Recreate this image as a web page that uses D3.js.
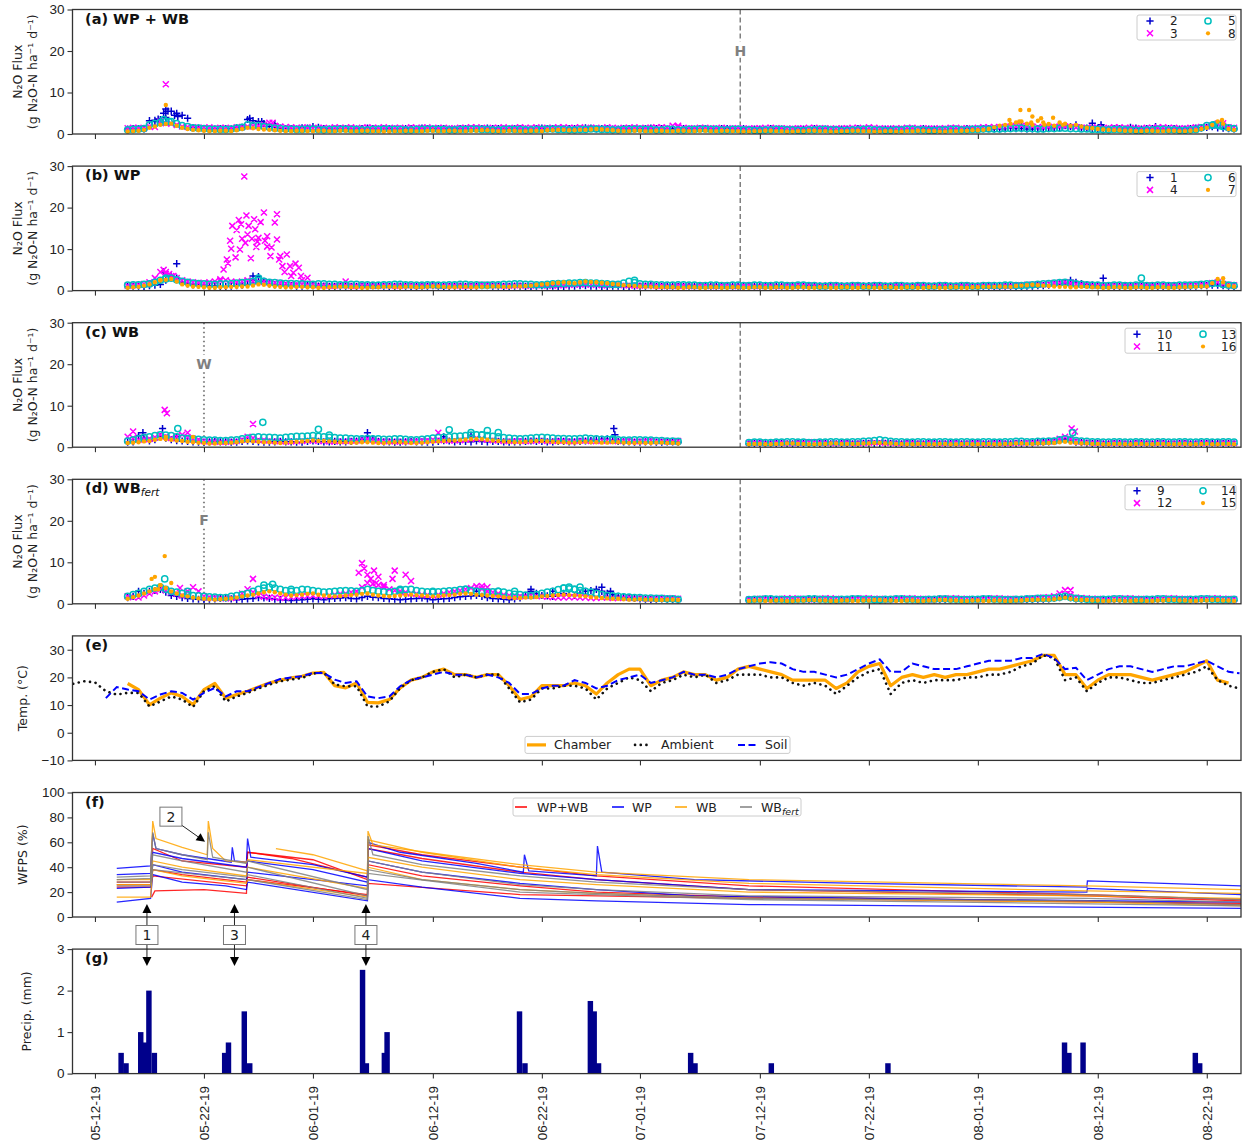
<!DOCTYPE html>
<html><head><meta charset="utf-8">
<script src="https://cdn.jsdelivr.net/npm/d3@7"></script>
<style>
body{margin:0;background:#fff}
svg{font-family:"DejaVu Sans",sans-serif}
.axis text{font-size:13.5px;fill:#222}
.axis line{stroke:#333;stroke-width:1.1}
</style></head>
<body><svg id="chart" width="1244" height="1146"></svg>
<script>
// ---------- time axis (days after 12 May 2019) ----------
const xDomain = [-2.06, 105.14];
const tickDays = [0, 10, 20, 31, 41, 50, 61, 71, 81, 92, 102];
const tickLabels = ["05-12-19","05-22-19","06-01-19","06-12-19","06-22-19","07-01-19","07-12-19","07-22-19","08-01-19","08-12-19","08-22-19"];
const harvestDay = 59.2, waterDay = 10.0;

// ---------- N2O flux: morning readings from 15 May (day 3), afternoon readings half a day later ----------
const FLUX_START = 3;
// (a) WP + WB
const flux2 = [1.2,1.3,3.2,3.5,5.5,4.5,1.5,1.3,1.2,1.3, 1.5,3.5,3.0,1.8,1.4,1.3,1.5,1.8,1.3,1.2, 1.3,1.2,1.4,1.2,1.3,1.2,1.3,1.4,1.2,1.3, 1.2,1.3,1.2,1.4,1.3,1.2,1.3,1.2,1.4,1.3, 1.2,1.3,1.5,1.2,1.3,1.2,1.3,1.2,1.4,1.3, 1.2,1.3,1.2,1.3,1.2,1.3,1.2,1.1,1.2,1.3, 1.2,1.1,1.2,1.3,1.2,1.1,1.2,1.3,1.2,1.1, 1.2,1.1,1.2,1.3,1.2,1.1,1.2,1.3,1.2,1.3, 1.2,1.4,1.3,1.2,1.3,1.5,2.0,2.2,1.4,1.3, 1.2,1.3,1.6,1.2,1.3,1.2,1.3,1.2,1.4,1.6, 1.5,1.3];
const flux2pm = [1.3,1.2,3.0,4.0,5.0,3.8,1.4,1.2,1.3,1.2, 1.6,3.2,2.5,1.6,1.3,1.2,1.4,1.6,1.2,1.3, 1.2,1.3,1.3,1.3,1.2,1.3,1.2,1.3,1.3,1.2, 1.3,1.2,1.3,1.3,1.2,1.3,1.2,1.3,1.3,1.2, 1.3,1.2,1.4,1.3,1.2,1.3,1.2,1.3,1.3,1.2, 1.3,1.2,1.3,1.2,1.3,1.2,1.3,1.2,1.1,1.2, 1.1,1.2,1.1,1.2,1.1,1.2,1.1,1.2,1.1,1.2, 1.1,1.2,1.1,1.2,1.1,1.2,1.1,1.2,1.3,1.2, 1.3,1.3,1.2,1.3,1.4,1.6,1.8,1.5,1.3,1.2, 1.3,1.2,1.4,1.3,1.2,1.3,1.2,1.3,1.5,1.8, 1.4,1.2];
const flux3 = [1.4,1.5,1.8,3.0,2.5,1.8,1.6,1.5,1.4,1.5, 1.6,1.8,2.0,2.7,1.8,1.6,1.5,1.4,1.5,1.6, 1.5,1.4,1.6,1.5,1.4,1.5,1.6,1.5,1.4,1.5, 1.4,1.5,1.6,1.4,1.5,1.4,1.6,1.5,1.4,1.5, 1.6,1.5,1.4,1.5,1.6,1.4,1.5,1.4,1.5,1.6, 2.0,1.5,1.4,1.5,1.4,1.3,1.4,1.3,1.4,1.5, 1.4,1.3,1.4,1.5,1.4,1.3,1.4,1.5,1.6,1.4, 1.3,1.4,1.5,1.4,1.3,1.4,1.5,1.4,1.5,1.6, 1.6,1.8,2.0,1.8,1.6,1.7,1.8,1.6,1.5,1.5, 1.5,1.6,1.5,1.4,1.5,1.6,1.5,1.4,1.6,1.8, 2.5,1.6];
const flux3pm = [1.5,1.4,1.7,2.6,2.2,1.7,1.5,1.6,1.5,1.4, 1.7,1.9,2.2,2.0,1.7,1.5,1.6,1.5,1.4,1.5, 1.6,1.5,1.5,1.6,1.5,1.4,1.5,1.6,1.5,1.4, 1.5,1.6,1.5,1.5,1.6,1.5,1.5,1.6,1.5,1.6, 1.5,1.6,1.5,1.4,1.5,1.5,1.6,1.5,1.6,1.5, 1.6,1.4,1.5,1.4,1.5,1.4,1.3,1.4,1.5,1.4, 1.3,1.4,1.5,1.4,1.3,1.4,1.5,1.4,1.5,1.3, 1.4,1.5,1.4,1.3,1.4,1.5,1.4,1.3,1.6,1.7, 1.7,1.9,1.9,1.7,1.7,1.8,1.7,1.5,1.6,1.4, 1.6,1.5,1.4,1.5,1.6,1.5,1.4,1.5,1.7,2.0, 2.0,1.5];
const flux5 = [1.0,1.2,2.2,2.8,3.0,2.0,1.5,1.3,1.2,1.1, 1.4,2.2,2.0,1.6,1.3,1.2,1.1,1.2,1.0,1.1, 1.2,1.1,1.0,1.1,1.2,1.1,1.0,1.1,1.2,1.1, 1.0,1.1,1.2,1.1,1.0,1.2,1.1,1.0,1.1,1.2, 1.1,1.0,1.1,1.2,1.1,1.0,1.1,1.2,1.1,1.0, 1.1,1.0,1.1,1.2,1.1,1.0,1.1,1.0,0.9,1.0, 1.1,1.0,0.9,1.0,1.1,1.0,0.9,1.0,1.1,1.0, 0.9,1.0,1.1,1.0,0.9,1.0,1.1,1.0,1.1,1.2, 1.2,1.3,1.4,1.3,1.2,1.3,1.4,1.3,1.2,1.1, 1.0,1.1,1.0,0.9,1.0,1.1,1.0,0.9,1.1,2.0, 2.2,1.5];
const flux5pm = [1.1,1.3,2.5,3.0,2.5,1.8,1.4,1.2,1.1,1.2, 1.6,2.0,1.8,1.4,1.2,1.1,1.2,1.1,1.1,1.2, 1.1,1.0,1.1,1.2,1.1,1.0,1.1,1.2,1.1,1.0, 1.1,1.2,1.1,1.0,1.1,1.1,1.0,1.1,1.2,1.1, 1.0,1.1,1.2,1.1,1.0,1.1,1.2,1.1,1.0,1.1, 1.0,1.1,1.2,1.1,1.0,1.1,1.0,0.9,1.0,1.1, 1.0,0.9,1.0,1.1,1.0,0.9,1.0,1.1,1.0,0.9, 1.0,1.1,1.0,0.9,1.0,1.1,1.0,1.1,1.2,1.2, 1.3,1.4,1.3,1.2,1.3,1.4,1.3,1.2,1.1,1.0, 1.1,1.0,0.9,1.0,1.1,1.0,0.9,1.0,1.5,2.1, 1.8,1.3];
const flux8 = [0.6,0.8,1.5,2.2,2.5,1.5,1.0,0.8,0.7,0.8, 0.9,1.5,1.2,1.0,0.8,0.7,0.8,0.7,0.8,0.7, 0.8,0.7,0.8,0.7,0.6,0.7,0.8,0.7,0.8,0.7, 0.8,0.7,0.8,0.9,0.7,0.8,0.7,0.8,0.7,0.9, 1.0,0.9,1.0,1.2,1.0,0.8,0.7,0.8,0.7,0.8, 0.7,0.8,0.7,0.8,0.7,0.8,0.7,0.6,0.7,0.8, 0.7,0.6,0.7,0.8,0.7,0.6,0.7,0.8,0.7,0.6, 0.7,0.6,0.7,0.8,0.7,0.6,0.7,0.8,0.9,1.2, 2.0,2.5,3.0,2.2,2.8,2.0,2.5,2.2,1.5,1.2, 1.0,0.9,0.8,0.7,0.8,0.7,0.8,0.7,0.9,1.5, 3.0,1.2];
const flux8pm = [0.7,1.0,1.8,2.4,2.0,1.2,0.9,0.7,0.8,0.7, 1.2,1.4,1.1,0.9,0.7,0.8,0.7,0.8,0.7,0.8, 0.7,0.8,0.7,0.6,0.7,0.8,0.7,0.8,0.7,0.8, 0.7,0.8,0.9,0.8,0.7,0.8,0.7,0.8,0.9,1.0, 0.9,1.0,1.1,1.1,0.9,0.7,0.8,0.7,0.8,0.7, 0.8,0.7,0.8,0.7,0.8,0.7,0.6,0.7,0.8,0.7, 0.6,0.7,0.8,0.7,0.6,0.7,0.8,0.7,0.6,0.7, 0.6,0.7,0.8,0.7,0.6,0.7,0.8,0.9,1.0,1.6, 2.2,2.8,2.5,3.2,2.4,2.8,2.0,1.8,1.4,1.1, 0.9,0.8,0.7,0.8,0.7,0.8,0.7,0.8,1.2,2.2, 2.5,1.0];
const burst2 = [[5.5,3.3],[5.8,3.6],[6.3,5.0],[6.5,6.0],[6.7,5.5],[7.3,4.5],[7.6,4.2],[14.2,3.8],[15.3,3.0],[16.5,2.5],[85,2.0],[91.5,2.6],[92.3,2.2],[97.3,1.8]];
const burst3 = [[6.5,12.0],[16.3,2.7],[53.5,2.0],[103.5,2.6]];
const burst5 = [[6.3,3.5],[6.8,3.0],[102.6,2.2],[103.2,2.0]];
const burst8 = [[6.5,7.0],[83.9,3.4],[84.8,3.0],[84.9,5.8],[85.7,5.8],[85.9,2.8],[86.0,4.2],[86.8,3.8],[87.1,2.2],[87.9,3.9],[88.8,2.2],[103.4,3.4]];
// (b) WP
const flux1 = [1.0,1.1,1.2,1.5,3.5,2.0,1.4,1.2,1.1,1.0, 1.2,1.5,3.4,1.6,1.3,1.2,1.1,1.2,1.1,1.0, 1.1,1.0,1.1,1.2,1.0,1.1,1.0,1.1,1.2,1.0, 1.1,1.0,1.1,1.2,1.1,1.0,1.1,1.0,1.2,1.1, 1.0,1.1,1.2,1.1,1.0,1.1,1.0,1.1,1.2,1.0, 1.1,1.0,1.1,1.0,1.1,1.0,1.1,1.0,1.1,1.0, 1.1,1.0,1.1,1.2,1.1,1.0,1.1,1.0,1.2,1.1, 1.0,1.1,1.0,1.1,1.0,1.1,1.0,1.1,1.0,1.1, 1.0,1.1,1.0,1.1,1.2,1.5,1.8,2.0,1.4,1.2, 1.1,1.0,1.1,1.0,1.1,1.0,1.1,1.0,1.1,1.2, 1.3,1.1];
const flux1pm = [1.1,1.0,1.3,2.5,3.0,1.6,1.3,1.1,1.0,1.1, 1.3,2.5,2.2,1.4,1.2,1.1,1.2,1.1,1.0,1.1, 1.0,1.1,1.2,1.1,1.0,1.1,1.0,1.1,1.1,1.0, 1.1,1.0,1.2,1.1,1.0,1.1,1.0,1.1,1.1,1.0, 1.1,1.2,1.1,1.0,1.1,1.0,1.1,1.1,1.0,1.1, 1.0,1.1,1.0,1.1,1.0,1.1,1.0,1.1,1.0,1.1, 1.0,1.1,1.2,1.1,1.0,1.1,1.0,1.1,1.1,1.0, 1.1,1.0,1.1,1.0,1.1,1.0,1.1,1.0,1.1,1.0, 1.1,1.0,1.1,1.2,1.3,1.6,1.9,1.7,1.3,1.1, 1.0,1.1,1.0,1.1,1.0,1.1,1.0,1.1,1.2,1.3, 1.2,1.0];
const flux4 = [1.2,1.4,2.0,4.5,3.5,2.5,2.0,1.8,2.2,2.5, 2.0,2.5,2.2,2.0,1.8,1.6,1.5,1.4,1.3,1.2, 1.3,1.2,1.3,1.2,1.3,1.2,1.3,1.2,1.3,1.2, 1.3,1.2,1.3,1.4,1.3,1.2,1.3,1.2,1.3,1.2, 1.3,1.4,1.5,1.4,1.3,1.4,1.3,1.2,1.3,1.2, 1.1,1.2,1.1,1.2,1.1,1.2,1.1,1.2,1.1,1.2, 1.1,1.2,1.3,1.2,1.1,1.2,1.1,1.2,1.1,1.2, 1.1,1.2,1.1,1.2,1.1,1.2,1.1,1.2,1.1,1.2, 1.1,1.2,1.3,1.4,1.5,1.8,2.0,1.6,1.4,1.3, 1.2,1.3,1.2,1.3,1.2,1.3,1.2,1.3,1.4,1.5, 2.0,1.4];
const flux4pm = [1.3,1.6,3.0,4.0,3.0,2.2,1.9,2.0,2.4,2.2, 2.2,2.3,2.1,1.9,1.7,1.5,1.4,1.3,1.2,1.3, 1.2,1.3,1.2,1.3,1.2,1.3,1.2,1.3,1.2,1.3, 1.2,1.3,1.4,1.3,1.2,1.3,1.2,1.3,1.2,1.3, 1.4,1.5,1.4,1.3,1.4,1.3,1.2,1.3,1.2,1.1, 1.2,1.1,1.2,1.1,1.2,1.1,1.2,1.1,1.2,1.1, 1.2,1.3,1.2,1.1,1.2,1.1,1.2,1.1,1.2,1.1, 1.2,1.1,1.2,1.1,1.2,1.1,1.2,1.1,1.2,1.1, 1.2,1.3,1.4,1.5,1.7,1.9,1.8,1.5,1.3,1.2, 1.3,1.2,1.3,1.2,1.3,1.2,1.3,1.4,1.5,1.8, 1.6,1.3];
const flux6 = [1.3,1.4,1.6,2.5,3.0,2.2,1.8,1.6,1.5,1.6, 1.8,2.0,2.5,2.0,1.8,1.7,1.6,1.5,1.6,1.5, 1.4,1.5,1.4,1.3,1.4,1.5,1.4,1.3,1.4,1.3, 1.4,1.5,1.4,1.3,1.4,1.5,1.6,1.5,1.4,1.6, 1.7,1.8,1.9,1.8,1.6,1.5,2.2,1.6,1.5,1.4, 1.3,1.4,1.3,1.2,1.3,1.2,1.3,1.2,1.3,1.2, 1.3,1.2,1.3,1.2,1.1,1.2,1.1,1.2,1.1,1.2, 1.1,1.2,1.1,1.2,1.1,1.2,1.1,1.2,1.1,1.2, 1.2,1.3,1.2,1.4,1.6,1.8,2.0,1.6,1.4,1.3, 1.2,1.3,1.2,1.3,1.2,1.3,1.2,1.3,1.4,1.6, 1.8,1.3];
const flux6pm = [1.4,1.5,2.0,2.8,2.6,2.0,1.7,1.5,1.6,1.7, 1.9,2.2,2.2,1.9,1.7,1.6,1.5,1.6,1.5,1.4, 1.5,1.4,1.3,1.4,1.5,1.4,1.3,1.4,1.3,1.4, 1.5,1.4,1.3,1.4,1.5,1.6,1.5,1.4,1.5,1.7, 1.8,1.9,1.8,1.7,1.5,1.8,1.9,1.5,1.4,1.3, 1.4,1.3,1.2,1.3,1.2,1.3,1.2,1.3,1.2,1.3, 1.2,1.3,1.2,1.1,1.2,1.1,1.2,1.1,1.2,1.1, 1.2,1.1,1.2,1.1,1.2,1.1,1.2,1.1,1.2,1.2, 1.3,1.2,1.3,1.5,1.7,1.9,1.8,1.5,1.3,1.2, 1.3,1.2,1.3,1.2,1.3,1.2,1.3,1.3,1.5,1.7, 1.5,1.2];
const flux7 = [0.7,0.9,1.5,2.5,2.8,1.5,1.0,0.8,0.7,0.8, 0.9,1.0,1.5,1.2,0.9,0.8,0.9,0.8,0.7,0.8, 0.9,0.8,0.7,0.8,0.9,0.8,0.9,0.8,1.0,0.9, 0.8,0.9,0.8,0.9,1.0,0.9,1.0,1.2,1.5,1.8, 2.0,1.8,2.2,2.0,1.8,1.5,1.2,1.0,0.9,0.8, 0.8,0.7,0.8,0.7,0.8,0.7,0.8,0.7,0.8,0.7, 0.8,0.7,0.8,0.7,0.8,0.7,0.8,0.7,0.8,0.7, 0.8,0.7,0.8,0.7,0.8,0.7,0.8,0.7,0.8,0.9, 1.0,0.9,1.2,1.4,1.2,1.0,0.9,0.8,0.9,0.8, 0.7,0.8,0.7,0.8,0.7,0.8,0.7,0.8,0.9,1.0, 2.8,1.2];
const flux7pm = [0.8,1.2,2.0,2.6,2.2,1.2,0.9,0.7,0.8,0.9, 1.0,1.2,1.4,1.0,0.8,0.9,0.8,0.7,0.8,0.9, 0.8,0.7,0.8,0.9,0.8,0.9,0.8,0.9,1.0,0.8, 0.9,0.8,0.9,1.0,0.9,1.0,1.1,1.4,1.6,1.9, 1.9,2.0,2.1,1.9,1.6,1.3,1.1,0.9,0.8,0.8, 0.7,0.8,0.7,0.8,0.7,0.8,0.7,0.8,0.7,0.8, 0.7,0.8,0.7,0.8,0.7,0.8,0.7,0.8,0.7,0.8, 0.7,0.8,0.7,0.8,0.7,0.8,0.7,0.8,0.9,0.9, 0.9,1.1,1.3,1.3,1.1,0.9,0.8,0.9,0.8,0.7, 0.8,0.7,0.8,0.7,0.8,0.7,0.8,0.9,1.0,1.8, 2.0,1.0];
const burst1 = [[6.3,4.5],[7.5,6.5],[14.5,3.5],[89.5,2.5],[92.5,3.0]];
const burst4 = [[6.3,5.0],[6.5,4.5],[6.8,4.0],[7.2,3.5],[7.5,3.0],[11.5,2.7],[11.8,5.1],[12.1,7.5],[12.2,6.6],[12.4,12.0],[12.5,10.1],[12.6,15.6],[12.9,8.0],[13.0,14.6],[13.2,17.0],[13.3,9.9],[13.4,16.0],[13.5,12.5],[13.7,27.5],[13.8,11.5],[13.9,18.1],[14.0,13.5],[14.1,15.6],[14.3,7.8],[14.4,12.5],[14.6,17.2],[14.7,14.8],[14.8,10.5],[14.9,11.8],[15.0,12.7],[15.2,16.5],[15.5,18.8],[15.6,12.0],[15.8,13.1],[15.8,10.6],[16.1,8.3],[16.2,10.4],[16.5,16.4],[16.7,18.4],[16.7,12.3],[16.9,7.5],[17.0,8.3],[17.2,5.9],[17.4,4.5],[17.6,8.7],[17.9,5.9],[18.0,3.5],[18.2,4.3],[18.4,6.5],[18.7,5.5],[18.9,3.5],[19.0,2.5],[19.5,3.1],[23.0,2.2]];
const burst6 = [[6.5,3.0],[15.0,3.0],[49.5,2.5],[96.0,3.0]];
const burst7 = [[6.0,2.5],[103.5,3.0]];
// (c) WB  (no data 54-59)
const flux10 = [1.2,2.8,1.5,2.5,1.8,1.5,1.3,1.2,1.4,1.3, 1.2,1.5,1.3,1.2,1.4,1.3,1.2,1.5,1.3,1.4, 1.3,1.5,2.5,1.4,1.3,1.2,1.4,1.3,1.2,1.6, 1.3,1.4,1.5,1.3,1.4,1.2,1.3,1.5,1.4,1.3, 1.4,1.3,1.5,1.8,2.0,1.4,1.3,1.2,1.3,1.2,1.3, null,null,null,null,null,null, 0.8,0.9,0.8,0.9,0.8,0.9,0.8,0.9,0.8,0.9, 0.8,0.9,0.8,0.9,0.8,0.9,0.8,0.9,0.8,0.9, 0.8,0.9,0.8,0.9,0.8,0.9,1.0,1.2,1.4,2.0, 1.2,1.0,0.9,0.8,0.9,0.8,0.9,0.8,0.9,0.8, 0.9,0.8,0.9,1.0,0.9];
const flux10pm = [1.3,2.0,1.8,2.2,1.6,1.4,1.2,1.3,1.3,1.2, 1.4,1.4,1.2,1.3,1.3,1.2,1.4,1.4,1.3,1.3, 1.4,1.8,2.0,1.3,1.2,1.3,1.3,1.2,1.4,1.5, 1.4,1.3,1.4,1.4,1.3,1.3,1.4,1.4,1.3,1.4, 1.3,1.4,1.6,1.9,1.7,1.3,1.2,1.3,1.2,1.3,1.2, null,null,null,null,null,null, 0.9,0.8,0.9,0.8,0.9,0.8,0.9,0.8,0.9,0.8, 0.9,0.8,0.9,0.8,0.9,0.8,0.9,0.8,0.9,0.8, 0.9,0.8,0.9,0.8,0.9,0.8,1.1,1.3,1.7,1.6, 1.1,0.9,0.8,0.9,0.8,0.9,0.8,0.9,0.8,0.9, 0.8,0.9,1.0,0.9,0.8];
const flux11 = [2.5,1.8,2.0,3.0,2.2,3.0,2.0,1.5,1.4,1.3, 1.5,2.5,1.8,1.6,1.5,1.4,1.5,1.6,1.5,1.4, 1.5,1.6,2.0,1.6,1.5,1.4,1.5,1.6,1.8,1.7, 1.6,1.8,2.2,1.8,1.6,1.5,1.6,1.5,1.6,1.5, 1.6,1.5,1.6,1.5,1.6,1.5,1.6,1.5,1.6,1.5,1.4, null,null,null,null,null,null, 1.0,1.1,1.0,1.1,1.0,1.1,1.2,1.1,1.0,1.1, 1.0,1.1,1.2,1.1,1.0,1.1,1.0,1.1,1.0,1.1, 1.0,1.1,1.0,1.1,1.0,1.1,1.2,1.3,1.5,2.5, 1.5,1.2,1.1,1.0,1.1,1.0,1.1,1.0,1.1,1.0, 1.1,1.0,1.1,1.0,1.1];
const flux11pm = [2.2,1.9,2.4,2.6,2.6,2.4,1.8,1.4,1.3,1.4, 1.8,2.2,1.7,1.5,1.4,1.5,1.6,1.5,1.4,1.5, 1.6,1.8,1.8,1.5,1.4,1.5,1.6,1.7,1.8,1.6, 1.7,2.0,2.0,1.7,1.5,1.6,1.5,1.6,1.5,1.6, 1.5,1.6,1.5,1.6,1.5,1.6,1.5,1.6,1.5,1.4,1.5, null,null,null,null,null,null, 1.1,1.0,1.1,1.0,1.1,1.2,1.1,1.0,1.1,1.0, 1.1,1.2,1.1,1.0,1.1,1.0,1.1,1.0,1.1,1.0, 1.1,1.0,1.1,1.0,1.1,1.2,1.2,1.4,2.0,2.0, 1.3,1.1,1.0,1.1,1.0,1.1,1.0,1.1,1.0,1.1, 1.0,1.1,1.0,1.1,1.0];
const flux13 = [1.5,2.0,2.5,3.0,2.8,2.2,2.0,1.8,1.7,1.6, 1.8,2.2,2.5,2.4,2.2,2.5,2.6,2.8,2.5,2.3, 2.2,2.0,2.1,2.0,1.9,2.0,1.8,1.9,2.2,2.4, 2.6,2.8,3.0,2.8,2.5,2.2,2.0,2.2,2.4,2.2, 2.1,2.0,2.2,2.0,1.9,1.8,1.7,1.8,1.7,1.6,1.5, null,null,null,null,null,null, 1.1,1.2,1.1,1.2,1.3,1.2,1.1,1.2,1.3,1.2, 1.3,1.5,1.8,1.4,1.3,1.2,1.3,1.2,1.3,1.2, 1.3,1.2,1.3,1.2,1.3,1.4,1.3,1.4,1.5,2.0, 1.6,1.4,1.3,1.2,1.3,1.2,1.3,1.2,1.3,1.2, 1.3,1.2,1.3,1.2,1.3];
const flux13pm = [1.8,2.3,2.8,2.9,2.5,2.1,1.9,1.7,1.6,1.7, 2.0,2.4,2.4,2.3,2.4,2.6,2.7,2.6,2.4,2.2, 2.1,2.0,2.0,1.9,2.0,1.9,1.8,2.0,2.3,2.5, 2.7,2.9,2.9,2.6,2.3,2.1,2.1,2.3,2.3,2.1, 2.0,2.1,2.1,1.9,1.8,1.7,1.8,1.7,1.6,1.5,1.4, null,null,null,null,null,null, 1.2,1.1,1.2,1.3,1.2,1.1,1.2,1.3,1.2,1.3, 1.4,1.6,1.6,1.3,1.2,1.3,1.2,1.3,1.2,1.3, 1.2,1.3,1.2,1.3,1.4,1.3,1.4,1.5,1.8,1.8, 1.5,1.3,1.2,1.3,1.2,1.3,1.2,1.3,1.2,1.3, 1.2,1.3,1.2,1.3,1.2];
const flux16 = [1.0,1.2,1.5,2.0,1.8,1.5,1.2,1.0,0.9,1.0, 1.2,1.5,1.3,1.2,1.0,1.2,1.4,1.6,1.5,1.3, 1.2,1.1,1.2,1.0,1.1,1.2,1.0,1.1,1.3,1.5, 1.6,1.8,2.0,1.8,1.5,1.3,1.2,1.4,1.5,1.3, 1.2,1.1,1.3,1.2,1.1,1.2,1.0,1.1,1.0,1.1,1.0, null,null,null,null,null,null, 0.7,0.8,0.7,0.8,0.9,0.8,0.7,0.8,0.9,0.8, 0.8,0.9,1.0,0.9,0.8,0.7,0.8,0.7,0.8,0.7, 0.8,0.7,0.8,0.7,0.8,0.9,0.8,0.9,1.0,1.3, 1.0,0.9,0.8,0.7,0.8,0.7,0.8,0.7,0.8,0.7, 0.8,0.7,0.8,0.7,0.8];
const flux16pm = [1.1,1.4,1.8,1.9,1.6,1.3,1.1,0.9,1.0,1.1, 1.4,1.4,1.2,1.1,1.1,1.3,1.5,1.5,1.4,1.2, 1.1,1.2,1.1,1.0,1.2,1.1,1.0,1.2,1.4,1.6, 1.7,1.9,1.9,1.6,1.4,1.2,1.3,1.5,1.4,1.2, 1.1,1.2,1.2,1.1,1.2,1.1,1.0,1.0,1.1,1.0,0.9, null,null,null,null,null,null, 0.8,0.7,0.8,0.9,0.8,0.7,0.8,0.9,0.8,0.8, 0.9,1.0,0.9,0.8,0.7,0.8,0.7,0.8,0.7,0.8, 0.7,0.8,0.7,0.8,0.9,0.8,0.9,1.0,1.2,1.1, 0.9,0.8,0.7,0.8,0.7,0.8,0.7,0.8,0.7,0.8, 0.7,0.8,0.7,0.8,0.7];
const burst10 = [[4.4,3.5],[6.2,4.5],[7.5,2.5],[25.0,3.5],[32.0,2.5],[34.5,2.8],[47.6,4.5],[47.7,3.0]];
const burst11 = [[3.5,3.8],[6.4,9.0],[6.6,8.2],[8.5,3.5],[14.5,5.6],[31.5,3.5],[89.6,4.5],[89.9,3.8]];
const burst13 = [[7.6,4.5],[15.4,6.0],[20.5,4.3],[21.5,2.9],[32.5,4.2],[34.5,3.5],[35.5,3.0],[36.0,4.0],[37.0,3.5],[47.5,2.0],[89.7,3.5]];
const burst16 = [[6.5,2.5],[9.0,2.5]];
// (d) WB fert  (no data 54-59)
const flux9 = [1.5,2.0,3.0,3.5,2.0,1.5,1.2,1.0,1.2,1.4, 1.0,1.2,1.5,1.3,1.0,0.8,1.0,1.2,1.0,1.3, 1.5,1.2,1.8,1.5,1.2,1.0,1.2,1.4,1.0,1.2, 1.5,1.8,2.0,1.5,1.2,1.0,1.4,3.0,2.0,1.8, 2.5,2.0,3.0,3.5,2.5,1.8,1.5,1.2,1.0,1.2,1.0, null,null,null,null,null,null, 0.8,0.9,1.0,0.9,0.8,0.9,1.0,0.9,0.8,0.9, 1.0,0.9,0.8,0.9,1.0,0.9,0.8,0.9,1.0,0.9, 0.8,0.9,1.0,0.9,0.8,0.9,1.0,1.1,1.3,1.8, 1.2,1.0,0.9,0.8,0.9,1.0,0.9,0.8,0.9,1.0, 0.9,0.8,0.9,1.0,0.9];
const flux9pm = [1.8,2.5,3.2,2.8,1.8,1.3,1.1,1.1,1.3,1.2, 1.1,1.3,1.4,1.1,0.9,0.9,1.1,1.1,1.2,1.4, 1.3,1.5,1.6,1.3,1.1,1.1,1.3,1.2,1.1,1.3, 1.7,1.9,1.8,1.3,1.1,1.2,2.0,2.5,1.9,2.0, 2.2,2.5,3.2,3.0,2.2,1.6,1.3,1.1,1.1,1.1,0.9, null,null,null,null,null,null, 0.9,1.0,0.9,0.8,0.9,1.0,0.9,0.8,0.9,1.0, 0.9,0.8,0.9,1.0,0.9,0.8,0.9,1.0,0.9,0.8, 0.9,1.0,0.9,0.8,0.9,1.0,1.1,1.2,1.5,1.5, 1.1,0.9,0.8,0.9,1.0,0.9,0.8,0.9,1.0,0.9, 0.8,0.9,1.0,0.9,0.8];
const flux12 = [1.8,1.5,2.5,3.5,2.8,2.0,4.0,1.8,1.5,1.3, 1.5,3.5,2.0,1.5,1.4,1.6,1.8,2.0,1.8,2.2, 2.5,3.0,5.0,4.5,3.5,3.0,2.5,2.2,2.0,2.5, 3.0,3.5,4.2,3.0,2.5,2.0,1.8,2.0,1.8,1.6, 1.5,1.6,1.5,1.4,1.5,1.4,1.5,1.4,1.3,1.4,1.3, null,null,null,null,null,null, 1.0,1.2,1.1,1.2,1.3,1.2,1.1,1.3,1.2,1.1, 1.2,1.3,1.2,1.1,1.2,1.3,1.2,1.1,1.2,1.3, 1.2,1.1,1.2,1.3,1.2,1.1,1.3,1.5,1.8,3.3, 1.5,1.3,1.2,1.1,1.2,1.3,1.2,1.1,1.2,1.3, 1.2,1.1,1.2,1.3,1.2];
const flux12pm = [1.6,2.0,3.0,3.2,2.4,3.0,3.0,1.6,1.4,1.4, 2.5,2.8,1.7,1.5,1.5,1.7,1.9,1.9,2.0,2.4, 2.8,4.0,4.8,4.0,3.2,2.8,2.4,2.1,2.2,2.8, 3.2,3.8,3.6,2.8,2.2,1.9,1.9,1.9,1.7,1.5, 1.6,1.5,1.4,1.5,1.4,1.5,1.4,1.3,1.4,1.3,1.2, null,null,null,null,null,null, 1.1,1.2,1.1,1.3,1.2,1.1,1.2,1.3,1.1,1.2, 1.3,1.2,1.1,1.2,1.3,1.2,1.1,1.2,1.3,1.2, 1.1,1.2,1.3,1.2,1.1,1.2,1.4,1.6,2.5,2.2, 1.4,1.2,1.1,1.2,1.3,1.2,1.1,1.2,1.3,1.2, 1.1,1.2,1.3,1.2,1.1];
const flux14 = [1.8,2.5,3.5,4.0,3.0,2.5,2.0,1.8,1.6,1.5, 2.0,2.5,3.5,4.0,3.5,3.0,3.5,3.2,2.8,3.0, 3.2,3.0,3.5,3.0,2.8,3.2,3.5,3.0,2.8,3.0, 3.2,3.5,3.0,2.8,3.0,2.5,2.2,2.0,2.5,3.0, 3.8,3.5,3.0,2.5,2.0,1.8,1.6,1.5,1.4,1.3,1.2, null,null,null,null,null,null, 1.0,1.1,1.2,1.1,1.0,1.1,1.2,1.1,1.0,1.1, 1.2,1.1,1.0,1.1,1.2,1.1,1.0,1.1,1.2,1.1, 1.0,1.1,1.2,1.1,1.0,1.1,1.2,1.3,1.4,1.8, 1.3,1.1,1.0,1.1,1.2,1.1,1.0,1.1,1.2,1.1, 1.0,1.1,1.2,1.1,1.0];
const flux14pm = [2.2,3.0,3.8,3.5,2.8,2.2,1.9,1.7,1.5,1.8, 2.2,3.0,3.8,3.8,3.2,3.2,3.4,3.0,2.9,3.1, 3.1,3.2,3.2,2.9,3.0,3.4,3.2,2.9,2.9,3.1, 3.4,3.2,2.9,2.9,2.8,2.3,2.1,2.2,2.8,3.4, 3.6,3.2,2.8,2.2,1.9,1.7,1.5,1.4,1.3,1.2,1.1, null,null,null,null,null,null, 1.1,1.2,1.1,1.0,1.1,1.2,1.1,1.0,1.1,1.2, 1.1,1.0,1.1,1.2,1.1,1.0,1.1,1.2,1.1,1.0, 1.1,1.2,1.1,1.0,1.1,1.2,1.3,1.3,1.6,1.5, 1.2,1.0,1.1,1.2,1.1,1.0,1.1,1.2,1.1,1.0, 1.1,1.2,1.1,1.0,1.1];
const flux15 = [1.2,2.0,3.0,4.5,3.0,2.0,1.5,1.2,1.0,1.2, 1.5,2.0,2.5,3.0,2.5,2.0,2.2,2.5,2.0,1.8, 2.0,2.2,2.5,2.0,1.8,2.0,2.2,2.0,1.8,2.0, 2.2,2.5,2.2,2.0,1.8,1.5,1.4,1.5,1.8,2.0, 2.2,2.0,1.8,1.5,1.3,1.2,1.0,1.1,1.0,0.9,1.0, null,null,null,null,null,null, 0.7,0.8,0.7,0.8,0.7,0.8,0.9,0.8,0.7,0.8, 0.7,0.8,0.9,0.8,0.7,0.8,0.7,0.8,0.9,0.8, 0.7,0.8,0.7,0.8,0.7,0.8,0.9,1.0,1.1,1.5, 1.0,0.9,0.8,0.7,0.8,0.7,0.8,0.7,0.8,0.9, 0.8,0.7,0.8,0.9,0.8];
const flux15pm = [1.6,2.5,3.5,3.8,2.5,1.8,1.3,1.1,1.1,1.3, 1.8,2.2,2.8,2.8,2.2,2.1,2.4,2.2,1.9,1.9, 2.1,2.4,2.2,1.9,1.9,2.1,2.1,1.9,1.9,2.1, 2.4,2.4,2.1,1.9,1.6,1.4,1.5,1.6,1.9,2.1, 2.1,1.9,1.6,1.4,1.2,1.1,1.0,1.0,0.9,1.0,0.9, null,null,null,null,null,null, 0.8,0.7,0.8,0.7,0.8,0.9,0.8,0.7,0.8,0.7, 0.8,0.9,0.8,0.7,0.8,0.7,0.8,0.9,0.8,0.7, 0.8,0.7,0.8,0.7,0.8,0.9,1.0,1.0,1.3,1.2, 0.9,0.8,0.7,0.8,0.7,0.8,0.7,0.8,0.9,0.8, 0.7,0.8,0.9,0.8,0.7];
const burst9 = [[4.0,3.0],[6.3,3.5],[35.0,3.0],[40.0,3.5],[42.0,3.0],[46.5,4.0],[47.3,3.0]];
const burst12 = [[7.8,3.8],[14.5,6.0],[24.2,7.5],[24.5,9.8],[24.7,8.5],[25.0,7.0],[25.3,6.0],[25.6,8.0],[25.8,5.0],[26.0,6.5],[26.5,4.5],[27.3,6.0],[27.5,8.0],[28.5,7.0],[29.0,5.5],[35.5,4.3],[36.0,4.0],[89.5,3.3]];
const burst14 = [[6.4,6.0],[8.5,3.0],[15.5,4.5],[16.3,4.7],[18.0,3.5],[28.0,3.5],[31.0,3.0],[34.0,3.5],[37.0,3.0],[38.5,3.0],[43.0,3.8],[43.5,4.0],[44.0,3.5],[44.5,4.0]];
const burst15 = [[5.2,6.0],[5.5,6.5],[5.8,3.5],[6.0,4.5],[6.4,11.5],[7.0,5.0]];

// ---------- temperature (daily means) ----------
const AMBIENT_START = -2;
const ambientTemp = [17.7,18.6,18.2,15.0,13.8,14.4,14.4,9.5,11.3,13.1, 12.0,9.3,15.0,16.8,11.3,13.1,14.4,16.0,17.4,18.6, 19.2,19.8,21.4,21.8,17.4,16.8,16.8,9.5,9.5,11.3, 16.2,19,20,22,23,20,21,20,21,21, 16,11,12,16,16,17,17,16,12,16, 18,20,19,15,18,19,21,20,21,18, 19,21,21,21,20,20,18,17,18,17, 14,17,20,22,23,14,18,19,18,19, 19,19,20,20,21,21,22,24,25,28, 27,19,20,15,18,20,20,19,18,18, 19,20,21,22,24,19,17,16];
const CHAMBER_START = 3;
const chamberTemp = [17.8,15.6,10.1,12.5,14.4,13.1,10.1,15.6,17.8,12.5, 13.8,15.0,16.5,18.0,19.0,19.8,20.4,21.6,21.8,17.0, 16.2,18.0,11.0,10.8,12.0,16.2,19,20,22,23, 21,21,20,21,21,17,12,13,17,17, 17,18,17,14,18,21,23,23,17,19, 20,22,21,21,19,20,23,24,23,22, 21,19,19,19,19,16,18,22,24,25, 17,20,21,20,21,20,21,21,22,23, 23,24,25,26,28,28,21,21,16,19, 21,21,21,20,19,20,21,22,24,26, 19,18];
const SOIL_START = 1;
const soilTemp = [12.5,16.5,15.6,15.0,12.0,13.8,15.0,14.4,12.0,14.4, 16.2,13.1,15.0,15.0,16.5,18.0,19.4,20.0,20.4,21.6, 21.6,19.2,18.0,18.6,13.1,12.5,13.1,16.8,19,20, 21,22,21,21,20,21,20,18,14,14, 16,17,17,19,18,16,17,19,20,21, 18,19,20,22,21,21,20,21,23,24, 25,25.5,25,23,22,22,21,20,21,23, 25,26.5,22,22,25,24,23,23,23,24, 25,26,26,26,27,27,28.5,27,23,23.5, 19,21,23,24,24,23,22,23,24,24, 25,26,24,22,21.5];

// ---------- WFPS (%), [day, value] per sensor ----------
const wfpsRed = [
  [[2,28],[5.1,28],[5.3,55],[8,45],[13.9,40],[14,52],[20,46],[25,30],[25.05,58],[30,50],[39,40],[46,33],[60,25],[91,18],[105.2,14]],
  [[2,26],[5.1,26],[5.3,38],[8,34],[13.9,28],[14,32],[25,17],[25.05,42],[30,33],[39,25],[46,20],[60,16],[91,13],[105.2,10]],
  [[2,24],[5.1,24],[5.3,33],[13.9,25],[14,30],[25,18],[25.05,27],[39,18],[60,15],[105.2,11]],
  [[5.2,16],[5.5,21],[10,22],[13.9,19],[14,52],[18,47],[25,32],[25.05,55],[30,47],[39,36],[46,30],[60,22],[91,17],[105.2,13]]
];
const wfpsBlue = [
  [[2,39],[5.1,41],[5.3,67],[5.6,55],[8,50],[12.5,44],[12.6,56],[12.8,45],[13.9,44],[14,63],[14.3,48],[20,42],[25,32],[25.05,60],[28,52],[35,43],[39.3,36],[39.4,50],[39.8,37],[46,33],[46.1,57],[46.5,36],[55,30],[70,27],[91,24],[91.05,29],[105.2,25]],
  [[2,34],[5.1,35],[5.3,52],[8,47],[13.9,40],[14,45],[20,38],[25,28],[25.05,55],[30,45],[39,35],[46,30],[60,22],[91,20],[91.05,23],[105.2,18]],
  [[2,23],[5.1,24],[5.3,42],[8,36],[13.9,30],[14,36],[25,25],[25.05,45],[30,36],[39,27],[46,22],[55,17],[80,14],[105.2,12]],
  [[2,12],[5.1,15],[5.3,34],[8,28],[12,25],[13.9,22],[14,28],[25,13],[25.05,30],[30,24],[39,15],[46,13],[60,10],[90,8],[105.2,7]]
];
const wfpsOrange = [
  [[2,30],[5.1,30],[5.3,77],[5.6,63],[8,56],[10.3,50],[10.4,77],[10.8,55],[12,45],[13.9,44],[14,46],[25,35],[25.05,69],[25.5,58],[32,50],[39,42],[46,36],[60,30],[91,25],[105.2,22]],
  [[16.6,55],[20,50],[25,37],[25.05,62],[30,52],[39,40],[46,34],[60,27],[91,21],[105.2,19]],
  [[2,26],[5.1,26],[5.3,45],[8,40],[13.9,33],[14,40],[25,23],[25.05,48],[30,40],[39,30],[46,26],[60,20],[91,17],[105.2,15]],
  [[2,16],[5.1,16],[5.3,38],[8,33],[13.9,27],[14,30],[25,16],[25.05,40],[30,30],[39,22],[46,19],[60,15],[91,12],[105.2,9]]
];
const wfpsGray = [
  [[2,32],[5.1,33],[5.3,68],[5.6,55],[8,50],[10.3,46],[10.4,68],[10.8,48],[13.9,43],[14,45],[25,22],[25.05,65],[25.5,50],[30,42],[39,33],[46,28],[60,22],[91,18],[105.2,14]],
  [[2,30],[5.1,31],[5.3,50],[8,45],[13.9,36],[14,40],[25,17],[25.05,45],[30,36],[39,26],[46,22],[60,17],[91,15],[105.2,12]],
  [[2,28],[5.1,28],[5.3,42],[8,38],[13.9,32],[14,34],[25,15],[25.05,38],[30,30],[39,22],[46,19],[60,15],[91,13],[105.2,10]],
  [[2,25],[5.1,25],[5.3,38],[13.9,30],[14,30],[25,14],[25.05,35],[39,20],[60,14],[105.2,9]]
];

// ---------- precipitation ----------
const rainDay = [2.15,2.6,3.95,4.4,4.7,5.2,11.65,12.0,13.45,13.95,24.3,24.65,26.3,26.55,38.7,39.2,45.2,45.55,45.95,54.4,54.8,61.8,72.5,88.7,89.1,90.4,100.7,101.1];
const rainMm = [0.5,0.25,1.0,0.75,2.0,0.5,0.5,0.75,1.5,0.25,2.5,0.25,0.5,1.0,1.5,0.25,1.75,1.5,0.25,0.5,0.25,0.25,0.25,0.75,0.5,0.75,0.5,0.25];
const RAIN_WIDTH = 0.5;

// irrigation / rain events marked between (f) and (g)
const eventDays = [4.77, 12.8, 24.86];
const eventLabels = ["1", "3", "4"];

// ====================================================================
const svg = d3.select("#chart");
const LEFT = 72.5, RIGHT = 1241, PANEL_H = 124.5, PITCH = 156.6, TOP0 = 9.5;
const x = d3.scaleLinear().domain(xDomain).range([LEFT, RIGHT]);
const fmt = d => d < 0 ? "\u2212" + (-d) : String(d);

function makePanel(i, yDomain, yTicks, showDates) {
  const top = TOP0 + i * PITCH;
  const y = d3.scaleLinear().domain(yDomain).range([top + PANEL_H, top]);
  const g = svg.append("g");
  const cid = "clip" + i;
  svg.append("clipPath").attr("id", cid).append("rect")
    .attr("x", LEFT).attr("y", top).attr("width", RIGHT - LEFT).attr("height", PANEL_H);
  const xa = g.append("g").attr("class", "axis").attr("transform", `translate(0,${top + PANEL_H})`)
    .call(d3.axisBottom(x).tickValues(tickDays).tickSize(5).tickSizeOuter(0)
      .tickFormat((d, k) => showDates ? tickLabels[k] : ""));
  xa.select(".domain").remove();
  if (showDates) {
    xa.selectAll("text").attr("transform", "rotate(-90)").attr("text-anchor", "end")
      .attr("x", -12.5).attr("y", 0).attr("dy", "0.35em").style("font-size", "13.5px");
  }
  const ya = g.append("g").attr("class", "axis").attr("transform", `translate(${LEFT},0)`)
    .call(d3.axisLeft(y).tickValues(yTicks).tickSize(5).tickSizeOuter(0).tickPadding(3).tickFormat(fmt));
  ya.select(".domain").remove();
  const plot = g.append("g").attr("clip-path", `url(#${cid})`);
  const over = g.append("g");
  return { top, y, g, plot, over };
}
function frame(p) {
  p.over.append("rect").attr("x", LEFT).attr("y", p.top).attr("width", RIGHT - LEFT).attr("height", PANEL_H)
    .attr("fill", "none").attr("stroke", "#333").attr("stroke-width", 1.3);
}
function panelTitle(p, label, sub) {
  const t = p.over.append("text").attr("x", 85).attr("y", p.top + 14).attr("font-size", 14.5)
    .attr("font-weight", "bold").attr("fill", "#111").text(label);
  if (sub) t.append("tspan").attr("font-style", "italic").attr("font-weight", "normal")
    .attr("font-size", 10.5).attr("dy", 3).text(sub);
}
function yLabel(p, lines, x0) {
  const cy = p.top + PANEL_H / 2;
  lines.forEach((s, k) => {
    svg.append("text").attr("transform", `translate(${x0 + k * 15},${cy}) rotate(-90)`)
      .attr("text-anchor", "middle").attr("font-size", 12.5).attr("fill", "#222").text(s);
  });
}

// marker shapes
const MK = {
  plus:   { color: "#0000cd" },
  cross:  { color: "#ff00ff" },
  circle: { color: "#00bfbf" },
  dot:    { color: "#ffa500" }
};
function drawMarks(sel, pts, kind, y) {
  const c = MK[kind].color;
  if (kind === "plus" || kind === "cross") {
    const s = kind === "plus" ? 3.6 : 3.0;
    let d = "";
    pts.forEach(([t, v]) => {
      const px = x(t), py = y(v);
      if (kind === "plus") d += `M${px - s},${py}h${2 * s}M${px},${py - s}v${2 * s}`;
      else d += `M${px - s},${py - s}l${2 * s},${2 * s}M${px - s},${py + s}l${2 * s},${-2 * s}`;
    });
    sel.append("path").attr("d", d).attr("stroke", c).attr("stroke-width", 1.5).attr("fill", "none");
  } else if (kind === "circle") {
    sel.append("g").selectAll("circle").data(pts).join("circle")
      .attr("cx", d => x(d[0])).attr("cy", d => y(d[1])).attr("r", 3.1)
      .attr("fill", "none").attr("stroke", c).attr("stroke-width", 1.5);
  } else {
    sel.append("g").selectAll("circle").data(pts).join("circle")
      .attr("cx", d => x(d[0])).attr("cy", d => y(d[1])).attr("r", 2.2).attr("fill", c);
  }
}
function legendMark(sel, kind, cx, cy) {
  const c = MK[kind].color;
  if (kind === "plus") sel.append("path").attr("d", `M${cx - 3.6},${cy}h7.2M${cx},${cy - 3.6}v7.2`).attr("stroke", c).attr("stroke-width", 1.5);
  else if (kind === "cross") sel.append("path").attr("d", `M${cx - 3},${cy - 3}l6,6M${cx - 3},${cy + 3}l6,-6`).attr("stroke", c).attr("stroke-width", 1.5);
  else if (kind === "circle") sel.append("circle").attr("cx", cx).attr("cy", cy).attr("r", 3.1).attr("fill", "none").attr("stroke", c).attr("stroke-width", 1.5);
  else sel.append("circle").attr("cx", cx).attr("cy", cy).attr("r", 2.1).attr("fill", c);
}
const toPoints = (am, pm, extra) =>
  am.map((v, k) => v == null ? null : [FLUX_START + k, v])
    .concat(pm.map((v, k) => v == null ? null : [FLUX_START + k + 0.5, v]))
    .filter(Boolean).concat(extra);

const fluxPanels = [
  { label: "(a) WP + WB", sub: null, ch: [["plus", 2, flux2, flux2pm, burst2], ["cross", 3, flux3, flux3pm, burst3], ["circle", 5, flux5, flux5pm, burst5], ["dot", 8, flux8, flux8pm, burst8]] },
  { label: "(b) WP", sub: null, ch: [["plus", 1, flux1, flux1pm, burst1], ["cross", 4, flux4, flux4pm, burst4], ["circle", 6, flux6, flux6pm, burst6], ["dot", 7, flux7, flux7pm, burst7]] },
  { label: "(c) WB", sub: null, ch: [["plus", 10, flux10, flux10pm, burst10], ["cross", 11, flux11, flux11pm, burst11], ["circle", 13, flux13, flux13pm, burst13], ["dot", 16, flux16, flux16pm, burst16]] },
  { label: "(d) WB", sub: "fert", ch: [["plus", 9, flux9, flux9pm, burst9], ["cross", 12, flux12, flux12pm, burst12], ["circle", 14, flux14, flux14pm, burst14], ["dot", 15, flux15, flux15pm, burst15]] }
];

fluxPanels.forEach((cfg, i) => {
  const p = makePanel(i, [0, 30], [0, 10, 20, 30], false);
  // harvest line
  p.plot.append("line").attr("x1", x(harvestDay)).attr("x2", x(harvestDay))
    .attr("y1", p.top).attr("y2", p.top + PANEL_H)
    .attr("stroke", "#808080").attr("stroke-width", 1.5).attr("stroke-dasharray", "5,3");
  if (i === 0) {
    p.plot.append("rect").attr("x", x(harvestDay) - 7).attr("y", p.top + 32).attr("width", 14).attr("height", 16).attr("fill", "#fff");
    p.plot.append("text").attr("x", x(harvestDay)).attr("y", p.top + 46).attr("text-anchor", "middle")
      .attr("font-weight", "bold").attr("font-size", 14).attr("fill", "#808080").text("H");
  }
  if (i >= 2) {
    const lab = i === 2 ? "W" : "F";
    p.plot.append("line").attr("x1", x(waterDay)).attr("x2", x(waterDay))
      .attr("y1", p.top).attr("y2", p.top + PANEL_H)
      .attr("stroke", "#808080").attr("stroke-width", 2).attr("stroke-dasharray", "1.5,3");
    p.plot.append("rect").attr("x", x(waterDay) - 8).attr("y", p.top + 32).attr("width", 16).attr("height", 16).attr("fill", "#fff");
    p.plot.append("text").attr("x", x(waterDay)).attr("y", p.top + 46).attr("text-anchor", "middle")
      .attr("font-weight", "bold").attr("font-size", 14).attr("fill", "#808080").text(lab);
  }
  cfg.ch.forEach(([kind, n, am, pm, extra]) => drawMarks(p.plot, toPoints(am, pm, extra), kind, p.y));
  frame(p);
  panelTitle(p, cfg.label, cfg.sub);
  yLabel(p, ["N\u2082O Flux", "(g N\u2082O-N ha\u207B\u00B9 d\u207B\u00B9)"], 21.5);
  // legend (two columns)
  const wide = cfg.ch.some(c => c[1] >= 10);
  const bx = wide ? 1125 : 1137, bw = wide ? 111 : 99;
  const lg = p.over.append("g");
  lg.append("rect").attr("x", bx).attr("y", p.top + 5.5).attr("width", bw).attr("height", 25).attr("rx", 2)
    .attr("fill", "#fff").attr("fill-opacity", 0.85).attr("stroke", "#ccc");
  cfg.ch.forEach(([kind, n], k) => {
    const col = Math.floor(k / 2), row = k % 2;
    const mx = bx + (wide ? [12, 78] : [13, 71])[col];
    const tx = bx + (wide ? [32, 96] : [33, 91])[col];
    const cy = p.top + 11.5 + row * 12.3;
    legendMark(lg, kind, mx, cy);
    lg.append("text").attr("x", tx).attr("y", cy + 4.3).attr("font-size", 12).attr("fill", "#222").text(n);
  });
});

// ---------- (e) temperature ----------
{
  const p = makePanel(4, [-10, 35], [-10, 0, 10, 20, 30], false);
  const line = d3.line().x(d => x(d[0])).y(d => p.y(d[1]));
  const ser = (vals, start) => vals.map((v, k) => [start + k, v]);
  p.plot.append("path").attr("d", line(ser(chamberTemp, CHAMBER_START))).attr("fill", "none")
    .attr("stroke", "#ffa500").attr("stroke-width", 3.2).attr("stroke-linejoin", "round");
  p.plot.append("path").attr("d", line(ser(ambientTemp, AMBIENT_START))).attr("fill", "none")
    .attr("stroke", "#111").attr("stroke-width", 2.6).attr("stroke-dasharray", "0.1,5.6").attr("stroke-linecap", "round");
  p.plot.append("path").attr("d", line(ser(soilTemp, SOIL_START))).attr("fill", "none")
    .attr("stroke", "#0000ff").attr("stroke-width", 2).attr("stroke-dasharray", "7,3.5");
  frame(p);
  panelTitle(p, "(e)");
  yLabel(p, ["Temp. (\u00B0C)"], 26.5);
  const lg = p.over.append("g"), ly = p.top + 109;
  lg.append("rect").attr("x", 525).attr("y", ly - 8.5).attr("width", 265).attr("height", 17).attr("rx", 2)
    .attr("fill", "#fff").attr("fill-opacity", 0.85).attr("stroke", "#ccc");
  lg.append("line").attr("x1", 527).attr("x2", 546).attr("y1", ly).attr("y2", ly).attr("stroke", "#ffa500").attr("stroke-width", 3.2);
  lg.append("text").attr("x", 554).attr("y", ly + 4.5).attr("font-size", 12.5).attr("fill", "#222").text("Chamber");
  lg.append("line").attr("x1", 635).attr("x2", 652).attr("y1", ly).attr("y2", ly).attr("stroke", "#111").attr("stroke-width", 2.6).attr("stroke-dasharray", "0.1,5.6").attr("stroke-linecap", "round");
  lg.append("text").attr("x", 661).attr("y", ly + 4.5).attr("font-size", 12.5).attr("fill", "#222").text("Ambient");
  lg.append("line").attr("x1", 738).attr("x2", 756).attr("y1", ly).attr("y2", ly).attr("stroke", "#0000ff").attr("stroke-width", 2).attr("stroke-dasharray", "7,3.5");
  lg.append("text").attr("x", 765).attr("y", ly + 4.5).attr("font-size", 12.5).attr("fill", "#222").text("Soil");
}

// ---------- (f) WFPS ----------
const pf = makePanel(5, [0, 100], [0, 20, 40, 60, 80, 100], false);
{
  const p = pf;
  const line = d3.line().x(d => x(d[0])).y(d => p.y(d[1]));
  [[wfpsRed, "#ff0000"], [wfpsBlue, "#0000ff"], [wfpsOrange, "#ffa500"], [wfpsGray, "#808080"]].forEach(([set, c]) => {
    set.forEach(s => p.plot.append("path").attr("d", line(s)).attr("fill", "none")
      .attr("stroke", c).attr("stroke-width", 1.3).attr("stroke-opacity", 0.85));
  });
  frame(p);
  panelTitle(p, "(f)");
  yLabel(p, ["WFPS (%)"], 26.5);
  const lg = p.over.append("g"), ly = p.top + 14.5;
  lg.append("rect").attr("x", 513).attr("y", ly - 9).attr("width", 288).attr("height", 18).attr("rx", 2)
    .attr("fill", "#fff").attr("fill-opacity", 0.85).attr("stroke", "#ccc");
  [["#ff0000", 515, 537, "WP+WB"], ["#0000ff", 612, 632, "WP"], ["#ffa500", 675, 696, "WB"], ["#808080", 740, 761, "WB"]].forEach(([c, lx, tx, s], k) => {
    lg.append("line").attr("x1", lx).attr("x2", lx + 12).attr("y1", ly).attr("y2", ly).attr("stroke", c).attr("stroke-width", 1.5);
    const t = lg.append("text").attr("x", tx).attr("y", ly + 4.5).attr("font-size", 12.5).attr("fill", "#222").text(s);
    if (k === 3) t.append("tspan").attr("font-style", "italic").attr("font-size", 9.5).attr("dy", 3).text("fert");
  });
  // annotation 2 (second irrigation)
  const bx = x(6.97), by = p.y(80.6);
  const ax = x(10.1), ay = p.y(60.5);
  p.over.append("line").attr("x1", bx + 10).attr("y1", by + 8).attr("x2", ax - 5).attr("y2", ay - 3.5).attr("stroke", "#222").attr("stroke-width", 1);
  p.over.append("path").attr("d", `M${ax},${ay}l-9.5,-1.5l5,-7z`).attr("fill", "#000");
  p.over.append("rect").attr("x", bx - 11).attr("y", by - 9.5).attr("width", 22).attr("height", 19).attr("fill", "#fff").attr("stroke", "#777");
  p.over.append("text").attr("x", bx).attr("y", by + 5).attr("text-anchor", "middle").attr("font-size", 14).attr("fill", "#222").text("2");
}

// ---------- (g) precipitation ----------
const pg = makePanel(6, [0, 3], [0, 1, 2, 3], true);
{
  const p = pg;
  p.plot.selectAll("rect.bar").data(rainDay.map((d, k) => [d, rainMm[k]])).join("rect")
    .attr("x", d => x(d[0])).attr("width", d => x(d[0] + RAIN_WIDTH) - x(d[0]))
    .attr("y", d => p.y(d[1])).attr("height", d => p.y(0) - p.y(d[1])).attr("fill", "#00008b");
  frame(p);
  panelTitle(p, "(g)");
  yLabel(p, ["Precip. (mm)"], 30.5);
}

// ---------- event markers linking (f) and (g) ----------
{
  const fBottom = pf.top + PANEL_H, gTop = pg.top;
  eventDays.forEach((d, k) => {
    const cx = x(d), cy = fBottom + 18;
    const a = svg.append("g");
    a.append("line").attr("x1", cx).attr("x2", cx).attr("y1", cy - 9).attr("y2", fBottom - 5).attr("stroke", "#222");
    a.append("path").attr("d", `M${cx},${fBottom - 13}l-4.5,9h9z`).attr("fill", "#000");
    a.append("line").attr("x1", cx).attr("x2", cx).attr("y1", cy + 9).attr("y2", gTop + 9).attr("stroke", "#222");
    a.append("path").attr("d", `M${cx},${gTop + 17}l-4.5,-9h9z`).attr("fill", "#000");
    a.append("rect").attr("x", cx - 11).attr("y", cy - 9.5).attr("width", 22).attr("height", 19).attr("fill", "#fff").attr("stroke", "#777");
    a.append("text").attr("x", cx).attr("y", cy + 5).attr("text-anchor", "middle").attr("font-size", 14).attr("fill", "#222").text(eventLabels[k]);
  });
}
</script></body></html>
